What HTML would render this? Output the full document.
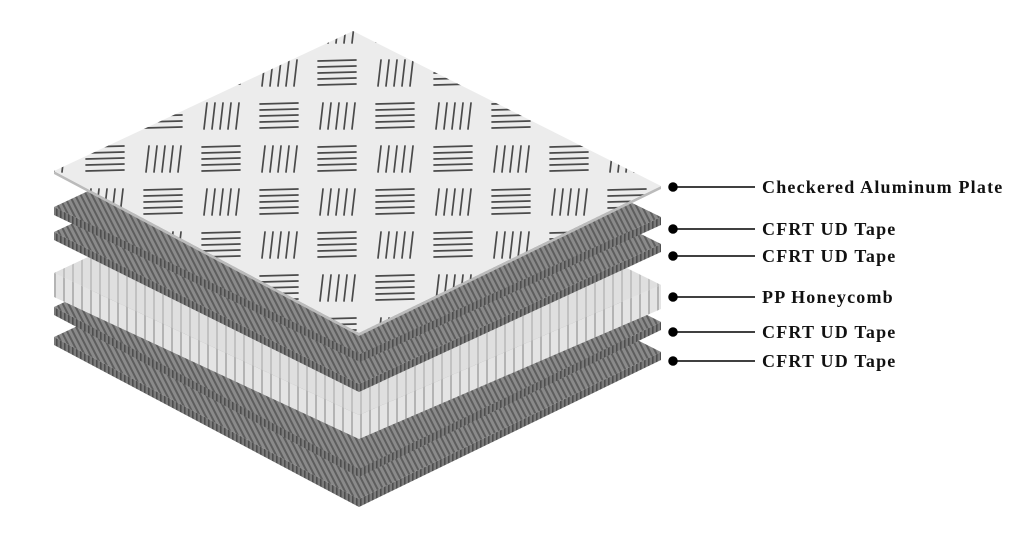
<!DOCTYPE html>
<html><head><meta charset="utf-8"><style>
html,body{margin:0;padding:0;background:#fff;width:1024px;height:536px;overflow:hidden}
</style></head><body>
<svg width="1024" height="536" viewBox="0 0 1024 536" xmlns="http://www.w3.org/2000/svg">
<defs>
<pattern id="cf" patternUnits="userSpaceOnUse" width="5" height="5" patternTransform="rotate(-27)">
<rect width="5" height="5" fill="#8a8a8a"/><rect width="2" height="5" fill="#5e5e5e"/></pattern>
<pattern id="cfs" patternUnits="userSpaceOnUse" width="4" height="4">
<rect width="4" height="4" fill="#7a7a7a"/><rect width="1.6" height="4" fill="#4e4e4e"/></pattern>
<pattern id="hc" patternUnits="userSpaceOnUse" width="9" height="9">
<rect width="9" height="9" fill="#e4e4e4"/><rect width="2" height="9" fill="#b4b4b4"/></pattern>
<g id="hb" stroke="#4a4a4a" stroke-width="1.7" stroke-linecap="round">
<line x1="0" y1="0" x2="38" y2="-1"/><line x1="0" y1="6" x2="38" y2="5"/><line x1="0" y1="12" x2="38" y2="11"/><line x1="0" y1="18" x2="38" y2="17"/><line x1="0" y1="24" x2="38" y2="23"/>
</g>
<g id="vb" stroke="#4a4a4a" stroke-width="1.7" stroke-linecap="round">
<line x1="3" y1="0" x2="0" y2="26"/><line x1="11" y1="0" x2="8" y2="26"/><line x1="19" y1="0" x2="16" y2="26"/><line x1="27" y1="0" x2="24" y2="26"/><line x1="35" y1="0" x2="32" y2="26"/>
</g>
<pattern id="chk" patternUnits="userSpaceOnUse" width="116" height="86" x="20" y="10">
<rect width="116" height="86" fill="#ececec"/>
<use href="#hb" x="8" y="8"/>
<use href="#vb" x="68" y="7"/>
<use href="#vb" x="10" y="50"/>
<use href="#hb" x="66" y="51"/>
</pattern>
</defs>

<g transform="translate(0,345)">
<polygon points="54,0 359,162 661,15 661,7 359,154 54,-8" fill="url(#cfs)"/>
<polygon points="54,-8 353,-148 661,7 359,154" fill="url(#cf)"/>
</g>
<g transform="translate(0,315)">
<polygon points="54,0 359,162 661,15 661,7 359,154 54,-8" fill="url(#cfs)"/>
<polygon points="54,-8 353,-148 661,7 359,154" fill="url(#cf)"/>
</g>
<g transform="translate(0,297)">
<polygon points="54,0 359,142 661,12 661,-12 359,118 54,-24" fill="url(#hc)"/>
<polygon points="54,-24 353,-164 661,-12 359,118" fill="#d8d8d8"/>
<polygon points="54,-24 353,-164 661,-12 359,118" fill="url(#hc)" opacity="0.6"/>
</g>
<g transform="translate(0,240)">
<polygon points="54,0 359,152 661,12 661,4 359,144 54,-8" fill="url(#cfs)"/>
<polygon points="54,-8 353,-148 661,4 359,144" fill="url(#cf)"/>
</g>
<g transform="translate(0,215)">
<polygon points="54,0 360,147 661,10 661,2 360,139 54,-8" fill="url(#cfs)"/>
<polygon points="54,-8 353,-148 661,2 360,139" fill="url(#cf)"/>
</g>
<polygon points="54,171 359,333 661,186 661,189 359,336 54,174" fill="#bbb"/>
<polygon points="54,171 353,31 661,186 359,333" fill="url(#chk)"/>

<g stroke="#000" stroke-width="1.5" fill="#000">
<line x1="673" y1="187" x2="755" y2="187"/><circle cx="673" cy="187" r="4"/>
<line x1="673" y1="229" x2="755" y2="229"/><circle cx="673" cy="229" r="4"/>
<line x1="673" y1="256" x2="755" y2="256"/><circle cx="673" cy="256" r="4"/>
<line x1="673" y1="297" x2="755" y2="297"/><circle cx="673" cy="297" r="4"/>
<line x1="673" y1="332" x2="755" y2="332"/><circle cx="673" cy="332" r="4"/>
<line x1="673" y1="361" x2="755" y2="361"/><circle cx="673" cy="361" r="4"/>
</g>
<g font-family="Liberation Serif, serif" font-weight="bold" font-size="18" fill="#111" letter-spacing="1.2">
<text x="762" y="193">Checkered Aluminum Plate</text>
<text x="762" y="235">CFRT UD Tape</text>
<text x="762" y="262">CFRT UD Tape</text>
<text x="762" y="303">PP Honeycomb</text>
<text x="762" y="338">CFRT UD Tape</text>
<text x="762" y="367">CFRT UD Tape</text>
</g>
</svg>
</body></html>
